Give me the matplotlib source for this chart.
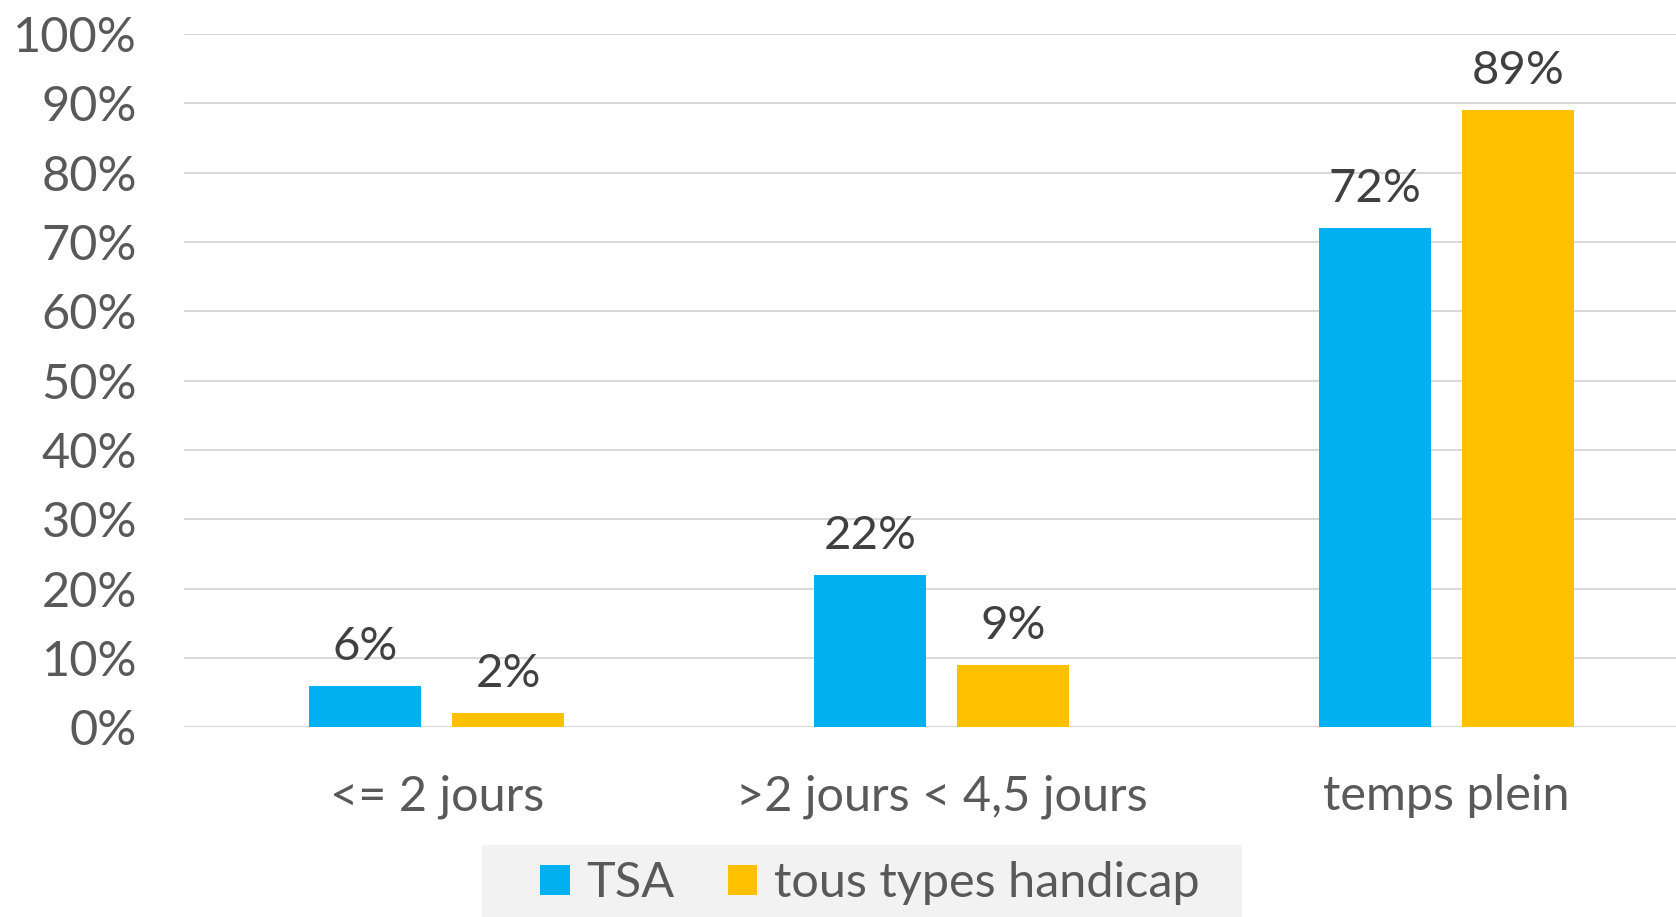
import matplotlib.pyplot as plt
from matplotlib.patches import Rectangle
import numpy as np

plt.rcParams['font.family'] = ['Lato', 'DejaVu Sans']

categories = ["<= 2 jours", ">2 jours < 4,5 jours", "temps plein"]
series_names = ["TSA", "tous types handicap"]
tsa = [6, 22, 72]
tous = [2, 9, 89]
colors = ["#00b0f0", "#ffc000"]

fig = plt.figure(figsize=(16.76, 9.17), dpi=100)
ax = fig.add_axes([0.11, 0.207, 0.89, 0.756])

x = np.arange(len(categories))
w = 0.222
gap = 0.061
off = (w + gap) / 2

for vals, name, col, sign in [(tsa, series_names[0], colors[0], -1),
                              (tous, series_names[1], colors[1], 1)]:
    bars = ax.bar(x + sign * off, vals, w, color=col, label=name)
    for b, v in zip(bars, vals):
        ax.text(b.get_x() + b.get_width() / 2, v + 2.6, f"{v}%",
                ha="center", va="bottom", fontsize=34, color="#404040")

ax.set_ylim(0, 100)
ax.set_xlim(-0.5, 2.454)
ax.set_yticks(range(0, 101, 10))
ax.set_yticklabels([f"{t}%" for t in range(0, 101, 10)])
ax.set_xticks(x)
ax.set_xticklabels(categories)
ax.tick_params(axis="y", length=0, labelsize=35, labelcolor="#595959", pad=34)
ax.tick_params(axis="x", length=0, labelsize=35, labelcolor="#595959", pad=34)
ax.grid(axis="y", color="#d9d9d9", linewidth=1.5)
ax.set_axisbelow(True)
for s in ax.spines.values():
    s.set_visible(False)

# gray legend band
fig.patches.append(Rectangle((0.2876, 0.0), 0.4535, 0.0785, transform=fig.transFigure,
                             facecolor="#f2f2f2", edgecolor="none", zorder=0))
leg = fig.legend(loc="center", bbox_to_anchor=(0.5192, 0.037), ncol=2,
                 fontsize=35, frameon=False, handlelength=0.6,
                 handleheight=0.6, columnspacing=1.1, handletextpad=0.35,
                 borderpad=0.0, borderaxespad=0.0, labelcolor="#595959")

plt.savefig("out.png", dpi=100)
